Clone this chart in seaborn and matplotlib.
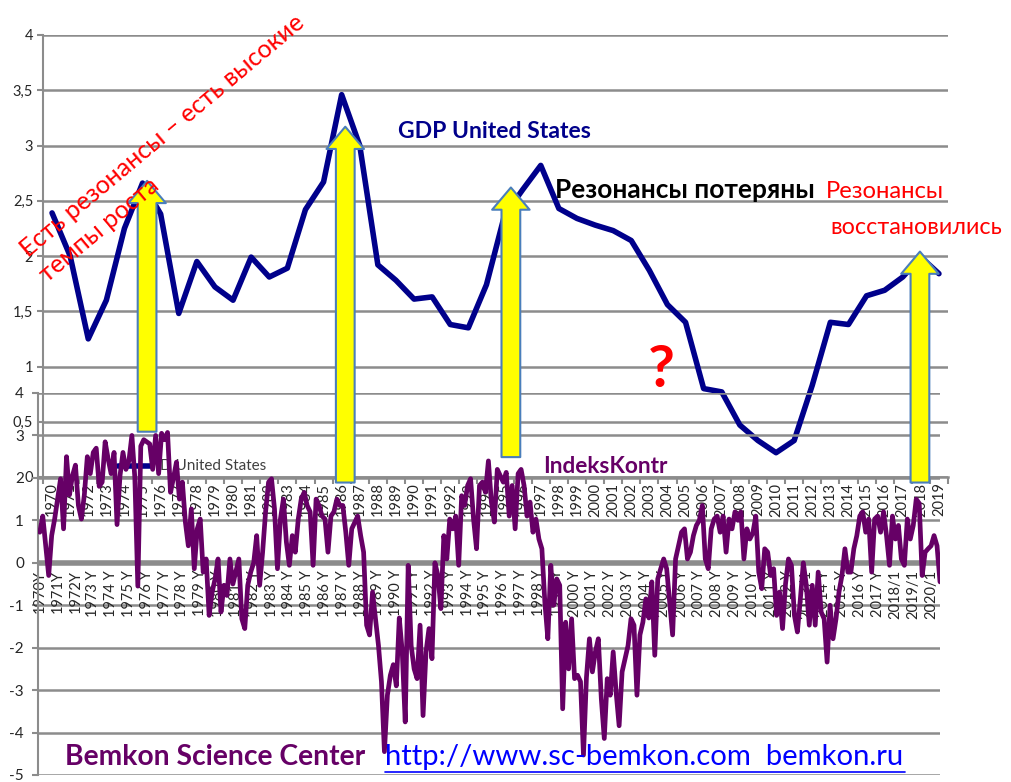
import numpy as np
import pandas as pd
import matplotlib
matplotlib.use("Agg")
import matplotlib.pyplot as plt
import matplotlib.transforms as mtransforms
from matplotlib.patches import FancyArrowPatch, ArrowStyle
from matplotlib.lines import Line2D
import seaborn as sns

# ---------------- data ----------------
gdp_years = list(range(1970, 2020))
gdp_us = [2.39, 2.00, 1.25, 1.60, 2.25, 2.66, 2.38, 1.48, 1.95, 1.72,
          1.60, 1.99, 1.81, 1.89, 2.42, 2.67, 3.46, 3.00, 1.92, 1.78,
          1.61, 1.63, 1.38, 1.35, 1.74, 2.37, 2.60, 2.82, 2.43, 2.34,
          2.28, 2.23, 2.14, 1.87, 1.56, 1.40, 0.80, 0.77, 0.47, 0.33,
          0.22, 0.33, 0.83, 1.40, 1.38, 1.64, 1.69, 1.81, 1.99, 1.84]

# IndeksKontr, six readings per year (bi-monthly)
indeks_1970s = [
    0.72, 1.10, 0.40, -0.30, 0.64, 1.03,
    1.50, 1.98, 0.80, 2.50, 1.60, 2.05,
    2.30, 1.35, 1.03, 1.60, 2.50, 2.10,
    2.60, 2.70, 1.80, 1.90, 2.85, 2.45,
    2.10, 2.60, 0.90, 2.05, 2.60, 2.20,
    2.40, 3.00, 2.00, -0.55, 2.75, 2.90,
    2.85, 2.80, 2.20, 3.00, 2.10, 3.05,
    2.90, 3.07, 1.66, 2.00, 2.37, 1.50,
    1.90, 0.96, 0.40, 1.27, -0.14, 0.80,
    1.03, -0.22, 0.09, -1.24, -0.70, -0.38,
]
indeks_1980s = [
    0.09, -1.16, -0.53, -0.77, 0.09, -0.50,
    -0.20, 0.09, -1.32, -1.55, -0.53, -0.22,
    0.00, 0.64, -0.53, 0.25, 1.20, 1.90,
    1.98, 1.27, -0.14, 1.03, 1.50, 0.49,
    -0.06, 0.64, 0.25, 1.03, 1.50, 1.66,
    1.35, 1.20, -0.06, 1.50, 1.35, 1.10,
    1.03, 0.25, 1.10, 1.20, 1.50, 1.35,
    1.35, 0.72, -0.06, 0.80, 0.95, 1.10,
    0.64, 0.25, -1.47, -1.70, -0.69, -1.32,
    -1.95, -2.80, -4.45, -3.12, -2.65, -2.40,
]
indeks_1990s = [
    -2.90, -1.30, -2.10, -3.75, -0.06, -1.95,
    -2.50, -2.73, -1.47, -3.60, -2.10, -1.55,
    -2.26, 0.00, -0.30, -1.08, 0.64, 0.09,
    1.03, 0.80, 1.10, -0.06, 1.58, 1.35,
    1.82, 1.98, 1.03, 0.33, 1.82, 1.90,
    1.66, 2.40, 1.43, 0.96, 2.20, 2.05,
    1.90, 2.13, 1.10, 1.82, 0.80, 2.10,
    2.20, 1.82, 1.10, 1.43, 0.72, 1.03,
    0.56, 0.33, -0.93, -1.79, -0.06, -1.00,
    -0.38, -0.53, -3.44, -1.40, -2.50, -1.32,
]
indeks_2000s = [
    -2.73, -2.65, -2.80, -4.53, -2.70, -1.79,
    -2.57, -2.10, -1.79, -3.20, -4.14, -2.73,
    -3.12, -2.10, -3.06, -3.84, -2.57, -2.26,
    -1.95, -1.32, -1.47, -3.12, -1.70, -1.40,
    -0.85, -1.30, -0.45, -2.18, -0.38, -0.14,
    0.09, -0.14, -0.93, -1.70, 0.09, 0.40,
    0.72, 0.80, 0.09, 0.25, 0.64, 0.88,
    1.00, 1.35, 0.09, -0.14, 0.80, 1.03,
    1.10, 0.72, 1.10, 0.25, 1.03, 0.80,
    1.20, 1.00, 1.20, 0.09, 0.80, 0.56,
]
indeks_2010s = [
    0.70, 1.10, -0.22, -0.61, 0.33, 0.25,
    -0.30, -0.14, -1.24, -0.69, -1.55, -0.50,
    0.09, -0.06, -1.24, -1.63, -0.85, 0.00,
    -0.53, -1.47, -0.53, -1.47, -0.22, -1.16,
    -1.32, -2.34, -1.00, -1.79, -1.32, -0.69,
    -0.30, 0.33, -0.22, -0.22, 0.33, 0.64,
    1.10, 1.20, 0.72, 1.03, -0.22, 1.03,
    1.10, 0.72, 1.20, 0.64, -0.06, 1.10,
    0.56, 0.88, 0.09, -0.06, 1.03, 0.56,
    0.88, 1.50, 1.40, -0.30, 0.25, 0.33,
]
indeks_2020 = [0.40, 0.64, 0.40, -0.45]

lower_labels = ["1970Y", "1971Y", "1972Y"] + [f"{y} Y" for y in range(1973, 2013)] + \
               ["2013/1", "2014 Y", "2015 Y", "2016 Y", "2017 Y", "2018/1", "2019/1", "2020/1"]

# annotation arrows (upper-chart coordinates: year, value at base, value at tip)
arrow_year = [1975.25, 1986.2, 1995.35, 2017.95]
arrow_base = [0.41, -0.05, 0.18, -0.05]
arrow_tip = [2.68, 3.17, 2.62, 2.04]

# ---------------- style ----------------
sns.set_theme(style="white")
plt.rcParams["font.family"] = ["Lato", "DejaVu Sans"]

W, H = 1011, 782
fig = plt.figure(figsize=(W / 100, H / 100), dpi=100)
fig.patch.set_facecolor("white")


def fx(p):
    return p / W


def fy(p):
    return 1 - p / H


GRID = "#8c8c8c"
TXT = "#262626"

ax_up = fig.add_axes([fx(43), fy(477), (948 - 43) / W, (477 - 35) / H])
ax_lo = fig.add_axes([fx(38), fy(775), (940 - 38) / W, (775 - 393) / H])
ax_lo.patch.set_alpha(0)

# ---------------- upper chart: GDP ----------------
idx = np.arange(len(gdp_years))
df_up = pd.DataFrame({"idx": idx, "gdp": gdp_us})
sns.lineplot(data=df_up, x="idx", y="gdp", ax=ax_up, color="#00008B",
             linewidth=4.0, zorder=3)

# legend-like label partially covered by the lower chart
ax_up.add_line(Line2D([fx(118), fx(152)], [fy(466), fy(466)], transform=fig.transFigure,
                      color="#00008B", lw=4, clip_on=False))
ax_up.text(fx(160), fy(466), "D United States", transform=fig.transFigure, fontsize=11,
           va="center", ha="left", color="#404040", clip_on=False)

ax_up.set_xlim(-0.5, len(gdp_years) - 0.5)
ax_up.set_ylim(0, 4)
yt = np.arange(0, 4.01, 0.5)
ax_up.set_yticks(yt)
ax_up.set_yticklabels([f"{v:g}".replace(".", ",") for v in yt], fontsize=10.5, color=TXT)
ax_up.set_xticks(idx)
ax_up.set_xticklabels([str(y) for y in gdp_years], rotation=90, fontsize=10.5, color=TXT)
ax_up.set_xticks(np.arange(-0.5, len(gdp_years), 1), minor=True)
ax_up.tick_params(axis="x", which="major", length=0, pad=4, bottom=True)
ax_up.tick_params(axis="x", which="minor", length=5, width=1.5, color=GRID, bottom=True)
ax_up.tick_params(axis="y", length=4, width=1.5, color=GRID, pad=3, left=True)
ax_up.grid(axis="y", color=GRID, linewidth=1.8)
ax_up.grid(axis="x", visible=False)
for s in ["top", "right"]:
    ax_up.spines[s].set_visible(False)
ax_up.spines["left"].set_color(GRID)
ax_up.spines["left"].set_linewidth(1.5)
ax_up.spines["bottom"].set_color(GRID)
ax_up.spines["bottom"].set_linewidth(1.8)
ax_up.set_xlabel("")
ax_up.set_ylabel("")

# ---------------- lower chart: IndeksKontr ----------------
indeks = indeks_1970s + indeks_1980s + indeks_1990s + indeks_2000s + indeks_2010s + indeks_2020
t = 1970 + np.arange(len(indeks)) / 6.0
df_lo = pd.DataFrame({"t": t, "v": indeks})
sns.lineplot(data=df_lo, x="t", y="v", ax=ax_lo, color="#660066", linewidth=3.4, zorder=3)
ax_lo.set_xlim(1969.9, 2020.5)
ax_lo.set_ylim(-5, 4)
ax_lo.set_yticks(range(-5, 5))
ax_lo.set_yticklabels([str(v) for v in range(-5, 5)], fontsize=11, color=TXT)
ax_lo.set_xticks([])
ax_lo.tick_params(axis="y", length=4, width=1.5, color=GRID, pad=6, left=True)
ax_lo.grid(axis="y", color=GRID, linewidth=1.8)
ax_lo.grid(axis="x", visible=False)
ax_lo.axhline(0, color=GRID, lw=4, zorder=1.5)
for s in ["top", "right", "bottom"]:
    ax_lo.spines[s].set_visible(False)
ax_lo.spines["left"].set_color(GRID)
ax_lo.spines["left"].set_linewidth(1.5)
ax_lo.set_xlabel("")
ax_lo.set_ylabel("")

off = mtransforms.offset_copy(ax_lo.transData, fig=fig, x=0, y=-7, units="dots")
for i, lab in enumerate(lower_labels):
    ax_lo.text(1970 + i, 0, lab, transform=off, rotation=90, ha="center", va="top",
               fontsize=10.5, color=TXT, zorder=2)

# ---------------- yellow arrows ----------------
style = ArrowStyle.Simple(head_length=1.6, head_width=2.7, tail_width=1.35)
for ya, yb, ytp in zip(arrow_year, arrow_base, arrow_tip):
    xa = ya - gdp_years[0]
    arr = FancyArrowPatch((xa, yb), (xa, ytp), transform=ax_up.transData, arrowstyle=style,
                          mutation_scale=10, facecolor="#FFFF00", edgecolor="#4A7EBB",
                          linewidth=1.5, shrinkA=0, shrinkB=0, zorder=10, clip_on=False)
    fig.add_artist(arr)

# ---------------- texts ----------------
renderer = fig.canvas.get_renderer()


def fit_text(s, x0, x1, yc, color, weight="normal", base=16):
    tx = fig.text(fx(x0), fy(yc), s, ha="left", va="center", fontsize=base,
                  color=color, fontweight=weight, zorder=11)
    w = tx.get_window_extent(renderer).width
    tx.set_fontsize(base * (x1 - x0) / w)
    return tx


fit_text("GDP United States", 398, 592, 131, "#00008B", "bold")
fit_text("Резонансы потеряны", 555, 815, 190, "black", "bold")
fit_text("Резонансы", 826, 945, 192, "#FF0000")
fit_text("восстановились", 830, 1002, 227, "#FF0000")
fit_text("IndeksKontr", 543, 668, 466, "#660066", "bold")
fit_text("Bemkon Science Center", 65, 367, 757, "#660066", "bold")
fit_text("http://www.sc-bemkon.com  bemkon.ru", 385, 905, 757, "#0000FF")
fig.add_artist(Line2D([fx(385), fx(905)], [fy(772), fy(772)], color="#0000FF", lw=1.2))
fig.text(fx(661), fy(370), "?", ha="center", va="center", fontsize=42, fontweight="bold",
         color="#FF0000", zorder=11)

# rotated red note
l1 = fig.text(fx(28), fy(258), "Есть резонансы – есть высокие", ha="left", va="baseline",
              fontsize=18, color="#FF0000", zorder=11, rotation_mode="anchor")
w1 = l1.get_window_extent(renderer).width
size = 18 * 362 / w1
l1.set_fontsize(size)
l1.set_rotation(40)
l2 = fig.text(fx(47), fy(283), "темпы роста", ha="left", va="baseline", fontsize=size,
              color="#FF0000", zorder=11, rotation=40, rotation_mode="anchor")

fig.savefig("out.png", dpi=100, facecolor="white")
